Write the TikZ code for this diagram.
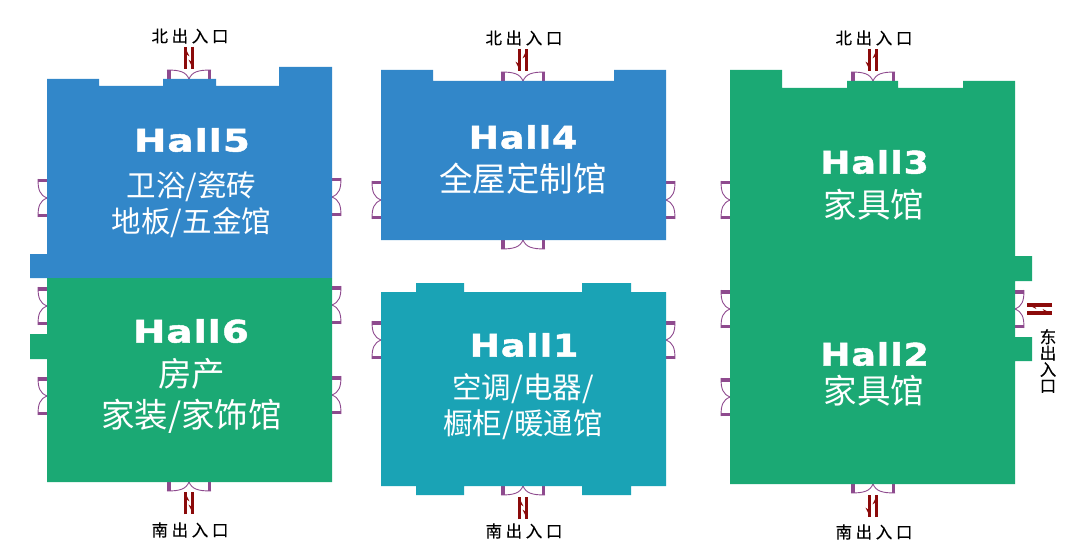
\documentclass[tikz,border=0pt]{standalone}
\usepackage{fontspec}
\usetikzlibrary{arrows.meta}
\setmainfont{Noto Sans CJK SC}
\newfontfamily\hallfont[FakeStretch=1.25,LetterSpace=3,FakeBold=1.5]{DejaVu Sans}
\newfontfamily\hallnarrow[FakeStretch=1.17,LetterSpace=3,FakeBold=1.5]{DejaVu Sans}
\newfontfamily\gatefont[LetterSpace=22,FakeBold=.4]{Noto Sans CJK SC}
\definecolor{hallblue}{HTML}{3287C9}
\definecolor{hallgreen}{HTML}{1BA974}
\definecolor{hallteal}{HTML}{1AA3B5}
\definecolor{doorpurple}{HTML}{8E4A8E}
\definecolor{gatered}{HTML}{8B0A0A}
\tikzset{
  halltitle/.style={text=white,inner sep=0pt,font=\hallfont\bfseries\fontsize{31}{31}\selectfont},
  halltitlen/.style={text=white,inner sep=0pt,font=\hallnarrow\bfseries\fontsize{31}{31}\selectfont},
  hallname/.style={text=white,inner sep=0pt,align=center,font=\fontsize{29.5}{36}\selectfont},
  hallbig/.style={text=white,inner sep=0pt,align=center,font=\fontsize{33.5}{41}\selectfont},
  gatelabel/.style={inner sep=0pt,align=center,font=\gatefont\fontsize{16.5}{16.3}\selectfont},
  gatearrow/.style={draw=gatered,line width=3.5pt,preaction={draw=gatered,line width=3.5pt,arrows=-}},
  gatehead/.style={-{Stealth[#1,length=8pt,width=8pt]}},
  pics/door/.style={code={
    \fill[doorpurple] (-#1/2,0) rectangle (-#1/2+3.5,9);
    \fill[doorpurple] (#1/2,0) rectangle (#1/2-3.5,9);
    \draw[doorpurple,line width=.9pt] (-#1/2,9) .. controls (-#1/5,9) and (-3,7) .. (0,0);
    \draw[doorpurple,line width=.9pt] (#1/2,9) .. controls (#1/5,9) and (3,7) .. (0,0);
  }}
}
\begin{document}
\begin{tikzpicture}[x=1pt,y=-1pt]
  \useasboundingbox (0,0) rectangle (1077,559);
  % doors
  \pic[rotate=180] at (189,79) {door=44};
  \pic[rotate=180] at (523,81) {door=44};
  \pic[rotate=180] at (873,81) {door=44};
  \pic at (189,482) {door=44};
  \pic at (523,240) {door=44};
  \pic at (523,486) {door=44};
  \pic at (873,484) {door=44};
  \pic[rotate=-90] at (47,198) {door=38};
  \pic[rotate=-90] at (47,306) {door=38};
  \pic[rotate=-90] at (47,396) {door=38};
  \pic[rotate=90] at (332,197) {door=38};
  \pic[rotate=90] at (332,305) {door=38};
  \pic[rotate=90] at (332,395) {door=38};
  \pic[rotate=-90] at (381,200) {door=38};
  \pic[rotate=90] at (666,200) {door=38};
  \pic[rotate=-90] at (381,340) {door=38};
  \pic[rotate=90] at (666,340) {door=38};
  \pic[rotate=-90] at (730,200) {door=38};
  \pic[rotate=-90] at (730,309) {door=38};
  \pic[rotate=-90] at (730,397) {door=38};
  \pic[rotate=90] at (1015,309) {door=38};
  % halls
  \fill[hallblue] (47,79) -- (99,79) -- (99,86) -- (163,86) -- (163,79) -- (216,79) -- (216,86)
    -- (279,86) -- (279,67) -- (332,67) -- (332,278) -- (30,278) -- (30,254) -- (47,254) -- cycle;
  \fill[hallgreen] (47,278) -- (332,278) -- (332,482) -- (47,482) -- (47,359) -- (30,359)
    -- (30,334) -- (47,334) -- cycle;
  \fill[hallblue] (381,70) -- (433,70) -- (433,81) -- (614,81) -- (614,70) -- (666,70)
    -- (666,240) -- (381,240) -- cycle;
  \fill[hallteal] (381,292) -- (416,292) -- (416,283) -- (464,283) -- (464,292) -- (582,292)
    -- (582,283) -- (631,283) -- (631,292) -- (666,292) -- (666,486) -- (631,486) -- (631,495)
    -- (582,495) -- (582,486) -- (464,486) -- (464,495) -- (416,495) -- (416,486) -- (381,486) -- cycle;
  \fill[hallgreen] (730,70) -- (782,70) -- (782,88) -- (847,88) -- (847,81) -- (898,81) -- (898,88)
    -- (963,88) -- (963,81) -- (1015,81) -- (1015,256) -- (1032,256) -- (1032,281) -- (1015,281)
    -- (1015,337) -- (1032,337) -- (1032,361) -- (1015,361) -- (1015,484) -- (730,484) -- cycle;
  % hall labels
  \node[halltitle] (hall5) at (192,140) {Hall5};
  \node[hallname] (hall5name) at (191.5,205) {卫浴/瓷砖\\地板/五金馆};
  \node[halltitle] (hall6) at (191,331) {Hall6};
  \node[hallbig] (hall6name) at (191.5,395.5) {房产\\家装/家饰馆};
  \node[halltitlen] (hall4) at (523,137) {Hall4};
  \node[hallbig] (hall4name) at (523,178.5) {全屋定制馆};
  \node[halltitlen] (hall1) at (524,345) {Hall1};
  \node[hallname] (hall1name) at (523,407) {空调/电器/\\橱柜/暖通馆};
  \node[halltitlen] (hall3) at (874.5,162) {Hall3};
  \node[hallbig] (hall3name) at (874,204.5) {家具馆};
  \node[halltitlen] (hall2) at (874.5,354) {Hall2};
  \node[hallbig] (hall2name) at (874,390.5) {家具馆};
  % gate labels
  \node[gatelabel] (north5) at (190,36) {北出入口};
  \node[gatelabel] (north4) at (524,38) {北出入口};
  \node[gatelabel] (north3) at (874,38) {北出入口};
  \node[gatelabel] (south6) at (190,530) {南出入口};
  \node[gatelabel] (south1) at (524,531) {南出入口};
  \node[gatelabel] (south2) at (874,532) {南出入口};
  \node[gatelabel] (east2) at (1048,361) {东\\出\\入\\口};
  % gate arrows
  \coordinate (a1) at (185.5,69);  \coordinate (a2) at (185.5,47);
  \coordinate (a3) at (192.5,47);  \coordinate (a4) at (192.5,69);
  \draw[gatearrow,gatehead=right] (a1) -- (a2);
  \draw[gatearrow,gatehead=right] (a3) -- (a4);
  \coordinate (b1) at (519.5,49);  \coordinate (b2) at (519.5,71);
  \coordinate (b3) at (526.5,71);  \coordinate (b4) at (526.5,49);
  \draw[gatearrow,gatehead=right] (b1) -- (b2);
  \draw[gatearrow,gatehead=left] (b3) -- (b4);
  \coordinate (c1) at (869.5,49);  \coordinate (c2) at (869.5,71);
  \coordinate (c3) at (876.5,71);  \coordinate (c4) at (876.5,49);
  \draw[gatearrow,gatehead=right] (c1) -- (c2);
  \draw[gatearrow,gatehead=left] (c3) -- (c4);
  \coordinate (d1) at (185.5,514); \coordinate (d2) at (185.5,492);
  \coordinate (d3) at (192.5,492); \coordinate (d4) at (192.5,514);
  \draw[gatearrow,gatehead=right] (d1) -- (d2);
  \draw[gatearrow,gatehead=right] (d3) -- (d4);
  \coordinate (e1) at (519.5,519); \coordinate (e2) at (519.5,497);
  \coordinate (e3) at (526.5,497); \coordinate (e4) at (526.5,519);
  \draw[gatearrow,gatehead=right] (e1) -- (e2);
  \draw[gatearrow,gatehead=right] (e3) -- (e4);
  \coordinate (f1) at (869.5,495); \coordinate (f2) at (869.5,517);
  \coordinate (f3) at (876.5,517); \coordinate (f4) at (876.5,495);
  \draw[gatearrow,gatehead=right] (f1) -- (f2);
  \draw[gatearrow,gatehead=left] (f3) -- (f4);
  \coordinate (g1) at (1052,305); \coordinate (g2) at (1027,305);
  \coordinate (g3) at (1027,313); \coordinate (g4) at (1052,313);
  \draw[gatearrow,gatehead=left] (g1) -- (g2);
  \draw[gatearrow,gatehead=left] (g3) -- (g4);
\end{tikzpicture}
\end{document}
